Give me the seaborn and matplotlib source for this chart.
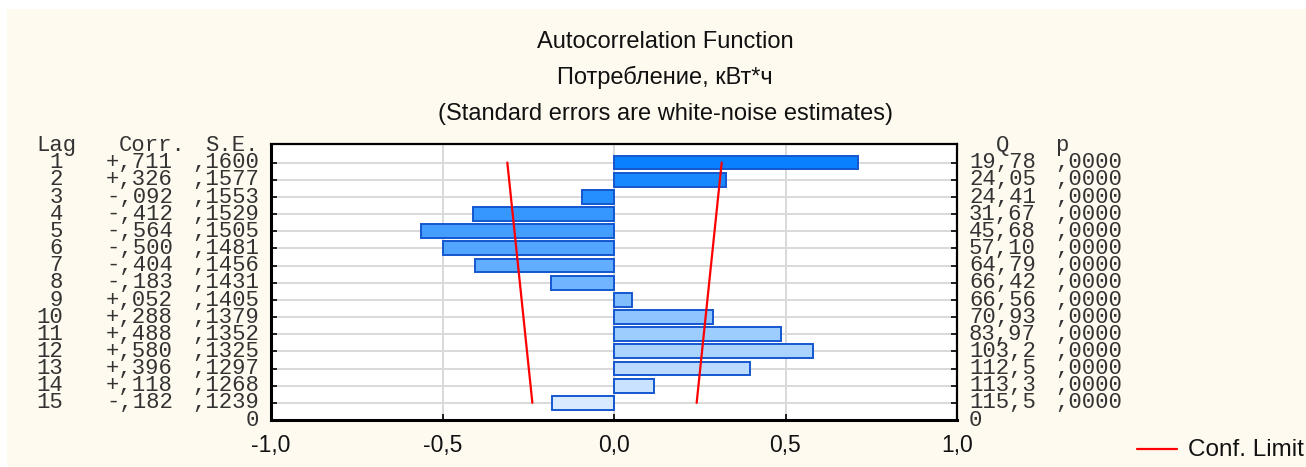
import numpy as np
import pandas as pd
import matplotlib
matplotlib.use("Agg")
import matplotlib.pyplot as plt
import matplotlib.transforms as mtransforms
from matplotlib.patches import Rectangle
from matplotlib.lines import Line2D
from matplotlib.font_manager import FontProperties
import seaborn as sns

# ---------------- data ----------------
lags = list(range(1, 16))
corr = [0.711, 0.326, -0.092, -0.412, -0.564, -0.500, -0.404, -0.183,
        0.052, 0.288, 0.488, 0.580, 0.396, 0.118, -0.182]
corr_labels = ["+,711", "+,326", "-,092", "-,412", "-,564", "-,500", "-,404", "-,183",
               "+,052", "+,288", "+,488", "+,580", "+,396", "+,118", "-,182"]
se_labels = [",1600", ",1577", ",1553", ",1529", ",1505", ",1481", ",1456", ",1431",
             ",1405", ",1379", ",1352", ",1325", ",1297", ",1268", ",1239"]
q_labels = ["19,78", "24,05", "24,41", "31,67", "45,68", "57,10", "64,79", "66,42",
            "66,56", "70,93", "83,97", "103,2", "112,5", "113,3", "115,5"]
p_labels = [",0000"] * 15
conf_lags = [1, 15]
conf_upper = [0.314, 0.241]
conf_lower = [-0.311, -0.238]
xtick_vals = [-1.0, -0.5, 0.0, 0.5, 1.0]
xtick_labels = ["-1,0", "-0,5", "0,0", "0,5", "1,0"]
title_lines = ["Autocorrelation Function", "Потребление, кВт*ч",
               "(Standard errors are white-noise estimates)"]
legend_label = "Conf. Limit"

# ---------------- style ----------------
sns.set_theme(style="white")
plt.rcParams["font.family"] = ["Liberation Sans", "DejaVu Sans"]

W, H = 1306, 467
fig = plt.figure(figsize=(W / 100, H / 100), dpi=100, facecolor="white")
fig.patches.append(Rectangle((7 / W, 0), 1 - 7 / W, 1 - 9 / H, transform=fig.transFigure,
                             facecolor="#FFFAF0", edgecolor="none", zorder=-10))

ax_l, ax_r, ax_t, ax_b = 271, 957, 144, 420
ax = fig.add_axes([ax_l / W, 1 - ax_b / H, (ax_r - ax_l) / W, (ax_b - ax_t) / H])
ax.set_facecolor("white")

df = pd.DataFrame({"lag": [str(l) for l in lags], "corr": corr})
c_top = np.array([0x08, 0x80, 0xFF]) / 255
c_bot = np.array([0xD8, 0xEA, 0xFF]) / 255
palette = [tuple(c_top + (c_bot - c_top) * t) for t in np.linspace(0, 1, len(lags))]
sns.barplot(data=df, x="corr", y="lag", hue="lag", palette=palette, legend=False,
            orient="h", width=0.8, edgecolor="#1457D0", linewidth=1.4, ax=ax,
            saturation=1, zorder=3)

# confidence limits
pos = [l - 1 for l in conf_lags]
ax.plot(conf_upper, pos, color="#FF0000", lw=1.6, zorder=4)
ax.plot(conf_lower, pos, color="#FF0000", lw=1.6, zorder=4)

y_lo, y_hi = 15, -1.08
ax.set_xlim(-1, 1)
ax.set_ylim(y_lo, y_hi)
ax.set_xticks(xtick_vals)
ax.set_xticklabels(xtick_labels, fontsize=16.5, color="#111111")
ax.set_yticks(range(len(lags)))
ax.set_yticklabels([])
ax.set_xlabel("")
ax.set_ylabel("")
ax.tick_params(axis="both", direction="in", length=4, width=1.2, color="black",
               top=True, right=True, bottom=True, left=True, pad=10)
ax.tick_params(axis="x", top=False, labeltop=False)
ax.grid(True, color="#D9D9D9", lw=1.4, zorder=0)
ax.set_axisbelow(True)
for s in ax.spines.values():
    s.set_color("black")
    s.set_linewidth(1.6)
ax.spines["bottom"].set_linewidth(2.2)
ax.spines["left"].set_linewidth(2.2)

# ---------------- side text columns ----------------
mono_fp = FontProperties(family=["Liberation Mono", "DejaVu Sans Mono"], size=16)
trans = mtransforms.blended_transform_factory(fig.transFigure, ax.transData)
base_off = 0.33  # baseline below row centre, in row units


def cell(xpx, row, s, ha):
    fig.text(xpx / W, row + base_off, s, ha=ha, va="baseline",
             fontproperties=mono_fp, color="#333333", transform=trans, clip_on=False)


hdr = -1
cell(36, hdr, "Lag", "left")
cell(119, hdr, "Corr.", "left")
cell(259, hdr, "S.E.", "right")
cell(996, hdr, "Q", "left")
cell(1055, hdr, "p", "left")
for i in range(len(lags)):
    cell(63, i, str(lags[i]), "right")
    cell(106, i, corr_labels[i], "left")
    cell(259, i, se_labels[i], "right")
    cell(969, i, q_labels[i], "left")
    cell(1055, i, p_labels[i], "left")
cell(259, 15, "0", "right")
cell(969, 15, "0", "left")

# ---------------- titles ----------------
for txt, ypx in zip(title_lines, [42, 77, 114]):
    fig.text(665 / W, 1 - ypx / H, txt, ha="center", va="center", fontsize=17,
             color="#111111")

# ---------------- legend ----------------
fig.lines.append(Line2D([1137 / W, 1177 / W], [1 - 449 / H, 1 - 449 / H],
                        transform=fig.transFigure, color="#FF0000", lw=1.6))
fig.text(1188 / W, 1 - 450 / H, legend_label, ha="left", va="center", fontsize=17.5,
         color="#111111")

fig.savefig("out.png", dpi=100, facecolor=fig.get_facecolor())
